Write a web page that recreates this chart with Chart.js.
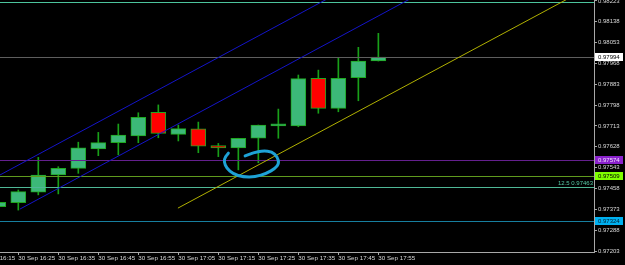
<!DOCTYPE html>
<html>
<head>
<meta charset="utf-8">
<script src="https://cdn.jsdelivr.net/npm/chart.js@4/dist/chart.umd.min.js"></script>
<style>
  html, body { margin: 0; padding: 0; background: #000; }
  #wrap { width: 625px; height: 265px; }
</style>
</head>
<body>
<div id="wrap"><canvas id="chart" width="625" height="265"></canvas></div>
<script>
// 5 minute candles, 30 Sep
const times = ["16:20", "16:25", "16:30", "16:35", "16:40", "16:45", "16:50", "16:55", "17:00", "17:05",
  "17:10", "17:15", "17:20", "17:25", "17:30", "17:35", "17:40", "17:45", "17:50", "17:55"];
const opens = [0.97384, 0.97400, 0.97443, 0.97513, 0.97540, 0.97620, 0.97645, 0.97673, 0.97769, 0.97679,
  0.97701, 0.97633, 0.97624, 0.97663, 0.97713, 0.97713, 0.97907, 0.97785, 0.97910, 0.97978];
const highs = [0.97405, 0.97452, 0.97585, 0.97547, 0.97647, 0.97687, 0.97721, 0.97767, 0.97799, 0.97717,
  0.97729, 0.97642, 0.97663, 0.97717, 0.97782, 0.97921, 0.97941, 0.97989, 0.98034, 0.98091];
const lows = [0.97380, 0.97370, 0.97432, 0.97436, 0.97520, 0.97592, 0.97595, 0.97645, 0.97665, 0.97652,
  0.97604, 0.97588, 0.97534, 0.97563, 0.97663, 0.97710, 0.97765, 0.97771, 0.97816, 0.97978];
const closes = [0.97402, 0.97445, 0.97513, 0.97540, 0.97624, 0.97645, 0.97676, 0.97748, 0.97683, 0.97702,
  0.97631, 0.97624, 0.97663, 0.97717, 0.97722, 0.97906, 0.97785, 0.97907, 0.97978, 0.97994];

// axis ticks
const timeTicks = ["16:15", "16:25", "16:35", "16:45", "16:55", "17:05", "17:15", "17:25", "17:35", "17:45", "17:55"];
const priceTicks = [0.97203, 0.97288, 0.97373, 0.97458, 0.97543, 0.97628, 0.97713, 0.97798, 0.97883,
  0.97968, 0.98053, 0.98138, 0.98223];

// horizontal levels and their price tags
const levelPrices = [0.98219, 0.97994, 0.97574, 0.97509, 0.97463, 0.97324];
const levelColors = ["#4cc49c", "#5e5e5e", "#64208e", "#5f9a1e", "#4fb896", "#177f9f"];
const tagPrices = [0.97994, 0.97574, 0.97509, 0.97324];
const tagBack = ["#ffffff", "#8a22cc", "#80ff00", "#00b0f0"];
const tagText = ["#000000", "#f0e0ff", "#000000", "#002030"];

// channel + trend line anchors [time, price]
const upperChannel = [[20.4, 0.97513], [101.7, 0.98227]];
const lowerChannel = [[25.4, 0.97374], [122.4, 0.98227]];
const trendLine = [[64.9, 0.97378], [161.8, 0.98227]];

// hand drawn circle note [time, price]
const circleNote = [[77.5, 0.97602], [76.7, 0.97588], [76.4, 0.97567], [77.1, 0.97540], [78.7, 0.97517],
  [81.2, 0.97505], [84.2, 0.97505], [87.1, 0.97520], [89.2, 0.97540], [90.2, 0.97561], [89.7, 0.97588],
  [88.4, 0.97608], [86.2, 0.97612], [83.7, 0.97604], [81.7, 0.97591]];

const toMin = (s) => {
  const [h, m] = s.split(":").map(Number);
  return (h - 16) * 60 + m;
};
const fmtTime = (v) => {
  const h = 16 + Math.floor(v / 60);
  const m = v % 60;
  return "30 Sep " + h + ":" + String(m).padStart(2, "0");
};

const bodies = times.map((t, i) => ({ x: toMin(t), y: [opens[i], closes[i]] }));
const wicks = times.map((t, i) => ({ x: toMin(t), y: [lows[i], highs[i]] }));
const isUp = (ctx) => ctx.raw && ctx.raw.y[1] >= ctx.raw.y[0];

const font = "'Liberation Sans', Arial, sans-serif";

const overlay = {
  id: "overlay",
  afterDatasetsDraw(chart) {
    const { ctx, chartArea: a, scales: { x, y } } = chart;
    ctx.save();
    ctx.beginPath();
    ctx.rect(a.left, a.top, a.right - a.left, a.bottom - a.top);
    ctx.clip();

    // horizontal levels
    ctx.lineWidth = 1;
    levelPrices.forEach((p, i) => {
      const py = Math.round(y.getPixelForValue(p)) + 0.5;
      ctx.strokeStyle = levelColors[i];
      ctx.beginPath();
      ctx.moveTo(a.left, py);
      ctx.lineTo(a.right, py);
      ctx.stroke();
    });

    // level captions
    ctx.font = "6px " + font;
    ctx.textAlign = "right";
    ctx.textBaseline = "bottom";
    ctx.fillStyle = "#55c8a4";
    ctx.fillText("12.5 0.97463", a.right - 1, y.getPixelForValue(0.97463) - 1);
    ctx.fillStyle = "#4cc49c";
    ctx.fillText("100.0 0.98219", a.right - 1, y.getPixelForValue(0.98219) - 1);

    // channel and trend lines, extended to the right
    const ray = (pts, color) => {
      const [t0, p0] = pts[0];
      const [t1, p1] = pts[1];
      const slope = (p1 - p0) / (t1 - t0);
      const tEnd = x.max;
      ctx.strokeStyle = color;
      ctx.beginPath();
      ctx.moveTo(x.getPixelForValue(t0), y.getPixelForValue(p0));
      ctx.lineTo(x.getPixelForValue(tEnd), y.getPixelForValue(p0 + slope * (tEnd - t0)));
      ctx.stroke();
    };
    ray(upperChannel, "#1414c8");
    ray(lowerChannel, "#1414c8");
    ray(trendLine, "#b0b000");

    // circle note
    const pts = circleNote.map(([t, p]) => [x.getPixelForValue(t), y.getPixelForValue(p)]);
    ctx.strokeStyle = "#1ea2d6";
    ctx.lineWidth = 3;
    ctx.lineCap = "round";
    ctx.lineJoin = "round";
    ctx.beginPath();
    ctx.moveTo(pts[0][0], pts[0][1]);
    for (let i = 1; i < pts.length - 1; i++) {
      const mx = (pts[i][0] + pts[i + 1][0]) / 2;
      const my = (pts[i][1] + pts[i + 1][1]) / 2;
      ctx.quadraticCurveTo(pts[i][0], pts[i][1], mx, my);
    }
    ctx.lineTo(pts[pts.length - 1][0], pts[pts.length - 1][1]);
    ctx.stroke();
    ctx.restore();
  },
  afterDraw(chart) {
    const { ctx, chartArea: a, scales: { y } } = chart;
    ctx.save();
    ctx.font = "6px " + font;
    ctx.textAlign = "left";
    ctx.textBaseline = "middle";
    tagPrices.forEach((p, i) => {
      const py = Math.round(y.getPixelForValue(p));
      ctx.fillStyle = tagBack[i];
      ctx.fillRect(a.right + 1, py - 4, 28, 8);
      ctx.fillStyle = tagText[i];
      ctx.fillText(p.toFixed(5), a.right + 4, py + 0.5);
    });
    ctx.restore();
  }
};

new Chart(document.getElementById("chart"), {
  type: "bar",
  data: {
    datasets: [
      {
        data: bodies,
        order: 0,
        barThickness: 15,
        minBarLength: 2,
        borderWidth: 1,
        borderSkipped: false,
        borderColor: "#1fa81f",
        backgroundColor: (ctx) => (isUp(ctx) ? "#3cb878" : "#ff0000")
      },
      {
        data: wicks,
        order: 1,
        barThickness: 1,
        borderWidth: 0,
        backgroundColor: "#19a019"
      }
    ]
  },
  options: {
    responsive: false,
    animation: false,
    layout: { padding: 0 },
    datasets: { bar: { grouped: false } },
    plugins: { legend: { display: false }, tooltip: { enabled: false } },
    scales: {
      x: {
        type: "linear",
        offset: false,
        min: 20.425,
        max: 168.9,
        afterBuildTicks: (scale) => {
          scale.ticks = timeTicks.map((t) => ({ value: toMin(t) }));
        },
        afterFit: (scale) => {
          scale.height = 13;
          scale.paddingLeft = 0;
          scale.paddingRight = 0;
        },
        border: { display: true, color: "#a8a8a8", width: 1 },
        grid: { display: true, offset: false, drawOnChartArea: false, drawTicks: true, tickLength: 3, color: "#a8a8a8" },
        ticks: {
          autoSkip: false,
          maxRotation: 0,
          align: "start",
          padding: 0,
          color: "#d8d8d8",
          font: { family: font, size: 6.2 },
          callback: (v) => fmtTime(v)
        }
      },
      y: {
        position: "right",
        min: 0.97199,
        max: 0.98227,
        afterBuildTicks: (scale) => {
          scale.ticks = priceTicks.map((v) => ({ value: v }));
        },
        afterFit: (scale) => {
          scale.width = 31;
          scale.paddingTop = 0;
          scale.paddingBottom = 0;
        },
        border: { display: true, color: "#a8a8a8", width: 1 },
        grid: { display: true, drawOnChartArea: false, drawTicks: true, tickLength: 3, color: "#a8a8a8" },
        ticks: {
          padding: 1,
          color: "#d8d8d8",
          font: { family: font, size: 6 },
          callback: (v) => Number(v).toFixed(5)
        }
      }
    }
  },
  plugins: [overlay]
});
</script>
</body>
</html>
